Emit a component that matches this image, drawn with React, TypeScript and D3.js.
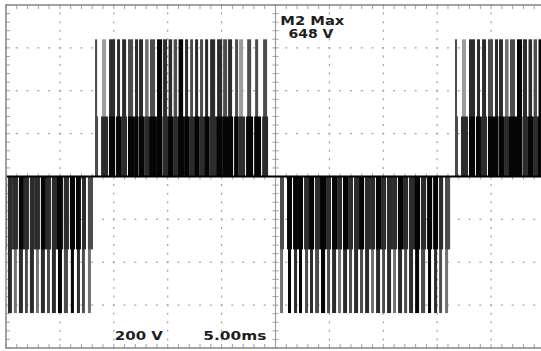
import { useEffect, useRef } from 'react'
import * as d3 from 'd3'

// scope settings: 5 ms/div, 200 V/div, 10 x 8 divisions
const timeSpan = [0, 50]
const voltSpan = [-800, 800]

// switching levels (V)
const posMid = 280
const posTop = 640
const negMid = -340
const negBottom = -637

// half cycles: start time (ms) and polarity
const halfStarts = [-7.71, 8.26, 25.42, 41.65]
const halfSigns = [-1, 1, -1, 1]

// pulses inside a half cycle, ms from its start:
// [midStart, topStart, topEnd, midEnd, topShade, midShade]
const posPulses = [
  [0, 0, 0.19, 0.28, 2, 2],
  [0.56, 0.65, 1.02, 1.21, 4, 1],
  [1.3, 1.3, 1.86, 1.86, 1, 0],
  [1.95, 2.04, 2.32, 2.41, 1, 0],
  [2.41, 2.51, 2.88, 2.97, 1, 1],
  [3.06, 3.06, 3.53, 3.62, 2, 0],
  [3.62, 3.71, 3.99, 4.04, 1, 0],
  [4.08, 4.08, 4.45, 4.55, 1, 0],
  [4.55, 4.64, 4.97, 5.01, 3, 1],
  [5.01, 5.1, 5.57, 5.66, 2, 0],
  [5.66, 5.75, 6.22, 6.26, 0, 0],
  [6.31, 6.31, 6.68, 6.77, 1, 1],
  [6.77, 6.82, 7.15, 7.24, 1, 0],
  [7.24, 7.29, 7.61, 7.7, 2, 1],
  [7.7, 7.75, 8.17, 8.26, 0, 0],
  [8.26, 8.35, 8.63, 8.72, 1, 0],
  [8.72, 8.82, 9.09, 9.19, 2, 1],
  [9.19, 9.28, 9.56, 9.65, 1, 0],
  [9.65, 9.74, 10.02, 10.12, 2, 1],
  [10.12, 10.21, 10.49, 10.58, 1, 0],
  [10.58, 10.67, 11.14, 11.23, 1, 1],
  [11.23, 11.32, 11.79, 11.79, 1, 0],
  [11.79, 11.88, 12.25, 12.34, 2, 0],
  [12.34, 12.34, 12.71, 12.81, 1, 0],
  [12.9, 12.99, 13.27, 13.27, 2, 0],
  [13.27, 13.36, 13.73, 13.92, 4, 1],
  [14.01, 14.11, 14.48, 14.66, 2, 0],
  [14.76, 14.85, 15.13, 15.4, 2, 0],
  [15.5, 15.59, 15.96, 16.05, 2, 1],
]

const negPulses = [
  [0, 0, 0.28, 0.37, 3, 2],
  [0.65, 0.74, 1.02, 1.11, 0, 0],
  [1.21, 1.3, 1.58, 1.67, 1, 0],
  [1.67, 1.76, 2.04, 2.13, 0, 0],
  [2.23, 2.32, 2.6, 2.69, 2, 1],
  [2.69, 2.78, 3.06, 3.16, 1, 0],
  [3.25, 3.25, 3.62, 3.71, 2, 1],
  [3.71, 3.8, 4.18, 4.27, 0, 0],
  [4.27, 4.36, 4.64, 4.73, 2, 1],
  [4.83, 4.83, 5.2, 5.29, 1, 0],
  [5.29, 5.38, 5.66, 5.75, 3, 1],
  [5.85, 5.85, 6.22, 6.31, 1, 0],
  [6.31, 6.4, 6.68, 6.77, 2, 1],
  [6.87, 6.87, 7.24, 7.33, 1, 1],
  [7.33, 7.42, 7.7, 7.8, 2, 0],
  [7.89, 7.89, 8.26, 8.35, 1, 1],
  [8.35, 8.44, 8.72, 8.82, 3, 1],
  [8.91, 8.91, 9.28, 9.37, 1, 0],
  [9.37, 9.47, 9.74, 9.84, 2, 1],
  [9.93, 9.93, 10.3, 10.39, 1, 1],
  [10.39, 10.49, 10.76, 10.86, 3, 1],
  [10.95, 10.95, 11.32, 11.41, 1, 0],
  [11.41, 11.51, 11.79, 11.88, 2, 1],
  [11.97, 11.97, 12.34, 12.44, 1, 1],
  [12.44, 12.53, 12.9, 12.99, 0, 0],
  [13.08, 13.08, 13.46, 13.55, 2, 1],
  [13.64, 13.73, 14.01, 14.11, 0, 0],
  [14.2, 14.29, 14.57, 14.66, 1, 0],
  [14.76, 14.76, 15.03, 15.13, 2, 1],
  [15.31, 15.31, 15.59, 15.78, 3, 2],
]

const shades = ['#050505', '#2c2c2c', '#4c4c4c', '#727272', '#9c9c9c']

const readouts = [
  { text: 'M2 Max', t: 25.45, v: 708, len: 64 },
  { text: '648 V', t: 26.2, v: 646, len: 45 },
  { text: '200 V', t: 10.1, v: -763, len: 48 },
  { text: '5.00ms', t: 18.3, v: -763, len: 63 },
]

const W = 541
const H = 351

const App = () => {
  const ref = useRef<SVGSVGElement>(null)

  useEffect(() => {
    if (!ref.current) return
    const svg = d3.select(ref.current)
    svg.selectAll('*').remove()

    const x = d3.scaleLinear().domain(timeSpan).range([6, 545])
    const y = d3.scaleLinear().domain(voltSpan).range([348, 5])

    svg.append('rect').attr('width', W).attr('height', H).attr('fill', '#fff')

    svg
      .append('clipPath')
      .attr('id', 'plot')
      .append('rect')
      .attr('x', x(0))
      .attr('y', y(800))
      .attr('width', x(50) - x(0))
      .attr('height', y(-800) - y(800))

    const grid = svg.append('g').attr('stroke', '#a0a0a0')
    const xMajor = d3.range(5, 50, 5)
    const yMajor = d3.range(-600, 601, 200)
    const xMinor = d3.range(0, 50.01, 1)
    const yMinor = d3.range(-800, 800.01, 40)

    // dotted graticule
    xMajor
      .filter((t) => t !== 25)
      .forEach((t) => {
        yMinor.forEach((v) => {
          grid
            .append('line')
            .attr('x1', x(t))
            .attr('x2', x(t))
            .attr('y1', y(v) - 1)
            .attr('y2', y(v) + 1)
            .attr('stroke-width', 1.2)
        })
      })
    yMajor
      .filter((v) => v !== 0)
      .forEach((v) => {
        xMinor.forEach((t) => {
          grid
            .append('line')
            .attr('x1', x(t) - 1)
            .attr('x2', x(t) + 1)
            .attr('y1', y(v))
            .attr('y2', y(v))
            .attr('stroke-width', 1.2)
        })
      })

    // centre axes with minor ticks
    grid
      .append('line')
      .attr('x1', x(25))
      .attr('x2', x(25))
      .attr('y1', y(800))
      .attr('y2', y(-800))
      .attr('stroke-width', 1.2)
    grid
      .append('line')
      .attr('x1', x(0))
      .attr('x2', x(50))
      .attr('y1', y(0))
      .attr('y2', y(0))
      .attr('stroke-width', 1.2)
    yMinor.forEach((v) => {
      grid
        .append('line')
        .attr('x1', x(25) - 3)
        .attr('x2', x(25) + 3)
        .attr('y1', y(v))
        .attr('y2', y(v))
      grid
        .append('line')
        .attr('x1', x(0))
        .attr('x2', x(0) + 4)
        .attr('y1', y(v))
        .attr('y2', y(v))
    })
    xMinor.forEach((t) => {
      grid
        .append('line')
        .attr('x1', x(t))
        .attr('x2', x(t))
        .attr('y1', y(0) - 3)
        .attr('y2', y(0) + 3)
      grid
        .append('line')
        .attr('x1', x(t))
        .attr('x2', x(t))
        .attr('y1', y(800))
        .attr('y2', y(800) + 4)
      grid
        .append('line')
        .attr('x1', x(t))
        .attr('x2', x(t))
        .attr('y1', y(-800))
        .attr('y2', y(-800) - 4)
    })

    // trace
    const trace = svg.append('g').attr('clip-path', 'url(#plot)')
    halfStarts.forEach((s, h) => {
      const sign = halfSigns[h]
      const pulses = sign > 0 ? posPulses : negPulses
      const mid = sign > 0 ? posMid : negMid
      const peak = sign > 0 ? posTop : negBottom
      pulses.forEach(([m0, t0, t1, m1, ts, ms]) => {
        trace
          .append('rect')
          .attr('x', x(s + t0))
          .attr('width', Math.max(x(s + t1) - x(s + t0), 1))
          .attr('y', Math.min(y(0), y(peak)))
          .attr('height', Math.abs(y(peak) - y(0)))
          .attr('fill', shades[ts])
        trace
          .append('rect')
          .attr('x', x(s + m0))
          .attr('width', Math.max(x(s + m1) - x(s + m0), 1))
          .attr('y', Math.min(y(0), y(mid)))
          .attr('height', Math.abs(y(mid) - y(0)))
          .attr('fill', shades[ms])
      })
    })
    trace
      .append('line')
      .attr('x1', x(0))
      .attr('x2', x(50))
      .attr('y1', y(0))
      .attr('y2', y(0))
      .attr('stroke', '#000')
      .attr('stroke-width', 2)

    // frame
    svg
      .append('rect')
      .attr('x', x(0))
      .attr('y', y(800))
      .attr('width', x(50) - x(0))
      .attr('height', y(-800) - y(800))
      .attr('fill', 'none')
      .attr('stroke', '#8c8c8c')
      .attr('stroke-width', 1.6)

    // readouts
    readouts.forEach((r) => {
      svg
        .append('text')
        .attr('x', x(r.t))
        .attr('y', y(r.v))
        .attr('textLength', r.len)
        .attr('lengthAdjust', 'spacingAndGlyphs')
        .style('font-family', 'DejaVu Sans')
        .style('font-weight', '700')
        .style('font-size', '11.5px')
        .style('fill', '#1e1e1e')
        .text(r.text)
    })
  }, [])

  return (
    <svg
      ref={ref}
      width={W}
      height={H}
      style={{ position: 'absolute', left: 0, top: 0, display: 'block' }}
    />
  )
}

export default App
